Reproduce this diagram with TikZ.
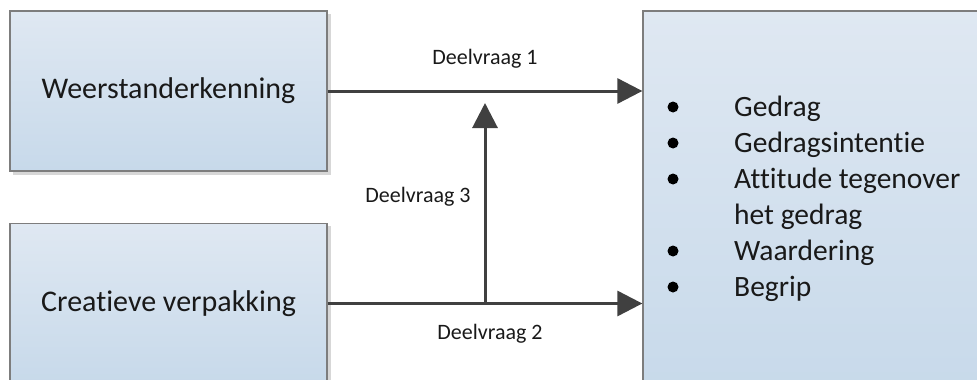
\documentclass[tikz,border=0pt]{standalone}
\usepackage{fontspec}
\setmainfont[Ligatures={NoCommon,NoRequired,NoContextual}]{Carlito}
\usetikzlibrary{arrows.meta}
\definecolor{boxtop}{RGB}{223,232,242}
\definecolor{boxbot}{RGB}{199,217,234}
\definecolor{edgec}{RGB}{125,125,125}
\definecolor{arrowc}{RGB}{64,64,64}
\definecolor{shadec}{RGB}{215,215,215}
\definecolor{txtc}{RGB}{25,25,25}
\begin{document}
\begin{tikzpicture}[x=1pt,y=-1pt,
  box/.style={rectangle, draw=edgec, line width=1.3pt, top color=boxtop, bottom color=boxbot,
    inner sep=0pt, text=txtc, font=\fontsize{30}{36}\selectfont},
  shadowbox/.style={fill=shadec, draw=none},
  arr/.style={draw=arrowc, line width=3pt, -{Triangle[length=25pt,width=25pt]}},
  lbl/.style={text=txtc, font=\fontsize{22}{26}\selectfont, inner sep=0pt},
  item/.style={text=txtc, font=\fontsize{29.5}{36}\selectfont, inner sep=0pt, anchor=base west},
  dot/.style={fill=black}]
\useasboundingbox (0,0) rectangle (977,380);
\clip (0,0) rectangle (977,380);
% shadows
\fill[shadowbox] (13,14) rectangle (331,175);
\fill[shadowbox] (13,226) rectangle (331,400);
\fill[shadowbox] (646,14) rectangle (1000,400);
% boxes
\node[box, minimum width=317pt, minimum height=160pt] (w) at (168.5,91) {Weerstanderkenning};
\node[box, minimum width=317pt, minimum height=160pt] (c) at (168.5,303.5) {Creatieve verpakking};
\node[box, minimum width=350pt, minimum height=385pt] (r) at (818,203.5) {};
% list
\foreach \yy/\t [count=\i] in {116/Gedrag,152/Gedragsintentie,188/Attitude tegenover,260/Waardering,296/Begrip}{
  \fill[dot] (673,\yy-9) circle (5.5pt);
  \node[item] (i\i) at (734,\yy) {\t};
}
\node[item] (i6) at (734,224) {het gedrag};
% connectors
\draw[arr] (w.east) -- (w.east -| r.west);
\draw[arr] (c.east) -- (c.east -| r.west);
\coordinate (j) at (485,303.5);
\coordinate (t) at (485,103);
\draw[arr] (j) -- (t);
% labels
\node[lbl] (l1) at (485,59) {Deelvraag 1};
\node[lbl] (l3) at (418,197) {Deelvraag 3};
\node[lbl] (l2) at (490,334) {Deelvraag 2};
\end{tikzpicture}
\end{document}
